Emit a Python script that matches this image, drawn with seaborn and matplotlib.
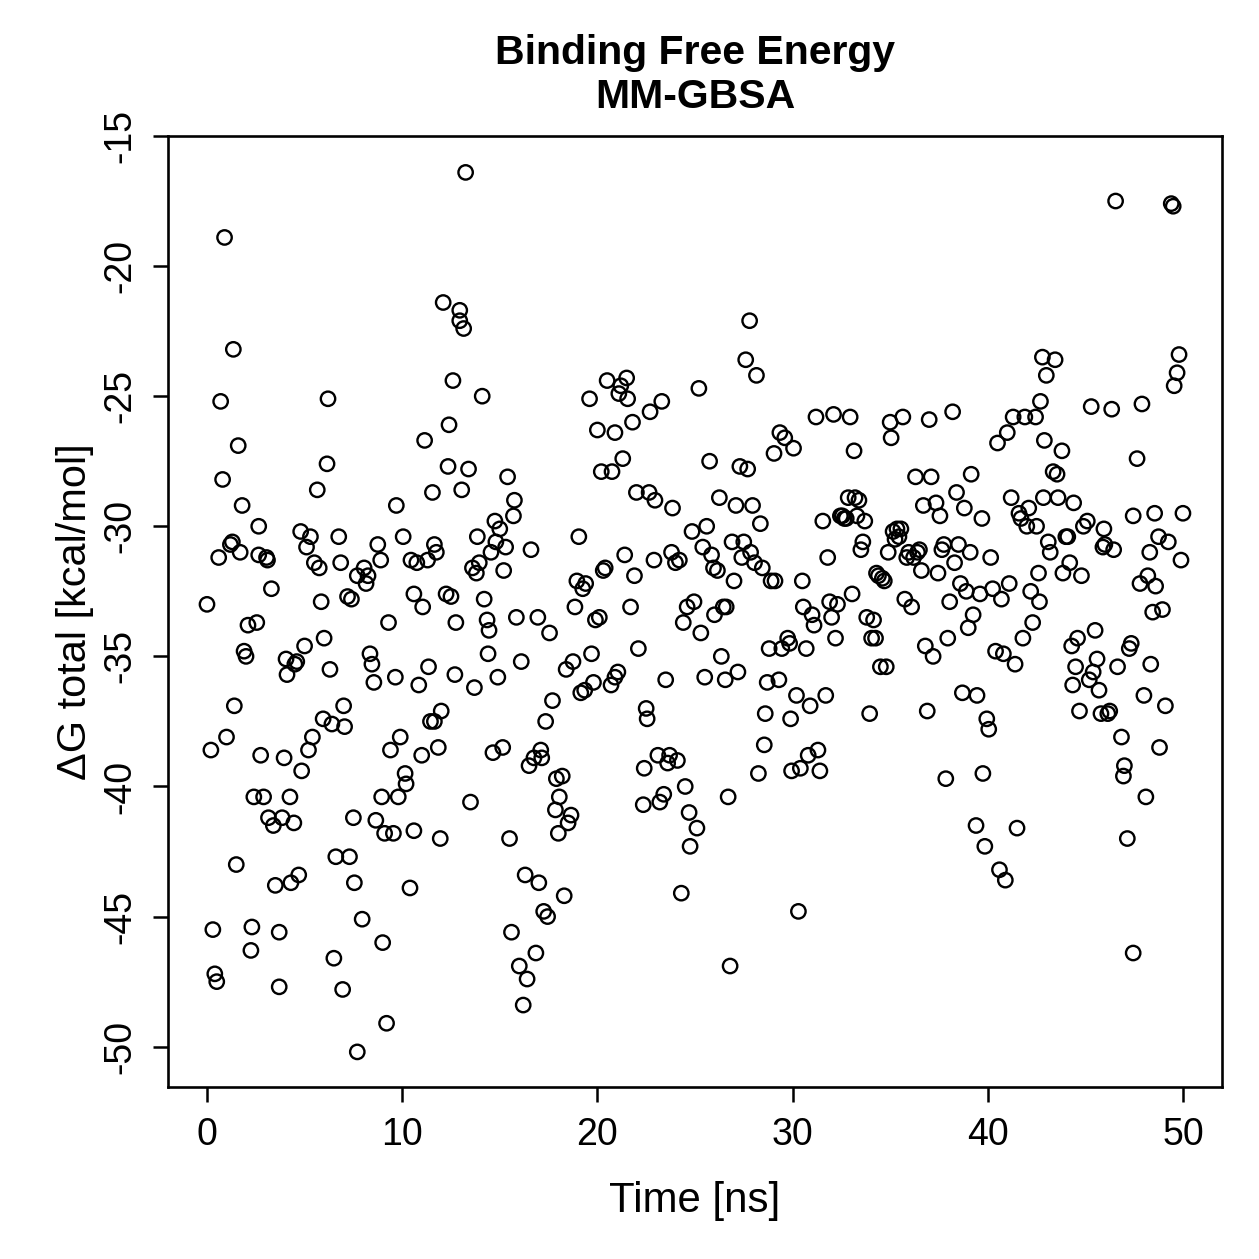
import matplotlib
matplotlib.use("Agg")
import matplotlib.pyplot as plt
import seaborn as sns
import pandas as pd

time_ns = [
 0.0,0.2,0.3,0.4,0.5,0.6,0.7,0.8,0.9,1.0,1.2,1.3,1.35,1.4,1.5,1.6,1.7,1.8,1.9,2.0,
 2.1,2.25,2.3,2.4,2.55,2.65,2.65,2.75,2.9,3.05,3.1,3.15,3.3,3.4,3.5,3.7,3.7,3.85,3.95,4.05,
 4.1,4.25,4.3,4.45,4.5,4.6,4.7,4.8,4.85,5.0,5.1,5.2,5.3,5.4,5.5,5.65,5.75,5.85,5.95,6.0,
 6.15,6.2,6.3,6.4,6.6,6.5,6.75,6.85,6.95,7.0,7.05,7.2,7.3,7.4,7.5,7.55,7.7,7.7,7.95,8.05,
 8.15,8.25,8.35,8.45,8.55,8.65,8.75,8.9,8.95,9.0,9.1,9.2,9.3,9.4,9.55,9.65,9.7,9.8,9.9,10.05,
 10.15,10.2,10.4,10.45,10.6,10.6,10.75,10.85,11.0,11.05,11.15,11.3,11.35,11.45,11.55,11.65,11.65,11.75,11.85,11.95,
 12.0,12.1,12.25,12.35,12.4,12.5,12.6,12.7,12.75,12.95,12.95,13.05,13.15,13.25,13.4,13.5,13.6,13.7,13.8,13.85,
 13.95,14.1,14.2,14.35,14.45,14.4,14.55,14.65,14.75,14.8,14.9,15.0,15.15,15.2,15.3,15.4,15.5,15.6,15.7,15.75,
 15.85,16.0,16.1,16.2,16.3,16.4,16.5,16.6,16.75,16.85,16.95,17.0,17.1,17.15,17.25,17.35,17.45,17.55,17.7,17.85,
 17.9,18.0,18.05,18.2,18.3,18.4,18.5,18.65,18.75,18.85,18.95,19.05,19.15,19.25,19.35,19.4,19.6,19.7,19.8,19.9,
 20.0,20.1,20.2,20.3,20.4,20.5,20.7,20.75,20.9,20.9,21.05,21.1,21.2,21.3,21.4,21.5,21.55,21.7,21.8,21.9,
 22.0,22.1,22.35,22.4,22.5,22.55,22.65,22.7,22.9,22.95,23.1,23.2,23.3,23.4,23.5,23.6,23.7,23.8,23.85,24.0,
 24.1,24.2,24.3,24.4,24.5,24.6,24.7,24.75,24.85,24.95,25.1,25.2,25.3,25.4,25.5,25.6,25.75,25.85,25.95,26.0,
 26.15,26.25,26.35,26.45,26.55,26.6,26.7,26.8,26.9,27.0,27.1,27.2,27.3,27.4,27.5,27.6,27.7,27.8,27.85,27.95,
 28.05,28.15,28.25,28.35,28.45,28.55,28.6,28.7,28.8,28.9,29.05,29.1,29.3,29.35,29.45,29.6,29.75,29.85,29.9,29.95,
 30.05,30.2,30.3,30.4,30.5,30.55,30.7,30.8,30.9,31.0,31.1,31.2,31.3,31.4,31.55,31.7,31.8,31.9,32.0,32.1,
 32.2,32.3,32.45,32.55,32.65,32.75,32.85,32.95,33.05,33.15,33.2,33.3,33.4,33.5,33.6,33.7,33.8,33.95,34.05,34.15,
 34.25,34.3,34.4,34.5,34.6,34.7,34.8,34.9,35.0,35.05,35.15,35.25,35.35,35.45,35.55,35.65,35.75,35.85,35.95,36.1,
 36.2,36.3,36.4,36.5,36.6,36.7,36.8,36.9,37.0,37.1,37.2,37.35,37.45,37.55,37.65,37.75,37.85,37.95,38.05,38.2,
 38.3,38.4,38.5,38.6,38.7,38.8,38.9,39.0,39.1,39.15,39.25,39.45,39.4,39.6,39.7,39.75,39.85,39.95,40.05,40.15,
 40.25,40.4,40.5,40.6,40.7,40.8,40.9,41.0,41.1,41.2,41.3,41.4,41.5,41.6,41.7,41.8,41.9,42.0,42.1,42.2,
 42.3,42.45,42.5,42.6,42.65,42.7,42.8,42.85,42.9,43.0,43.1,43.2,43.35,43.45,43.55,43.6,43.8,43.85,44.0,44.1,
 44.2,44.3,44.4,44.35,44.5,44.6,44.7,44.8,44.9,45.1,45.2,45.3,45.4,45.5,45.6,45.7,45.8,45.9,45.95,46.0,
 46.15,46.25,46.35,46.45,46.55,46.65,46.85,46.95,47.0,47.15,47.25,47.35,47.45,47.45,47.65,47.8,47.9,48.0,48.1,48.2,
 48.3,48.35,48.45,48.55,48.6,48.75,48.8,48.95,49.1,49.25,49.4,49.5,49.55,49.7,49.8,49.9,50.0,
]

delta_g = [
 -33.0,-38.6,-45.5,-47.2,-47.5,-31.2,-25.2,-28.2,-18.9,-38.1,-30.7,-30.6,-23.2,-36.9,-43.0,-26.9,-31.0,-29.2,-34.8,-35.0,
 -33.8,-46.3,-45.4,-40.4,-33.7,-30.0,-31.1,-38.8,-40.4,-31.2,-31.3,-41.2,-32.4,-41.5,-43.8,-45.6,-47.7,-41.2,-38.9,-35.1,
 -35.7,-40.4,-43.7,-41.4,-35.3,-35.2,-43.4,-30.2,-39.4,-34.6,-30.8,-38.6,-30.4,-38.1,-31.4,-28.6,-31.6,-32.9,-37.4,-34.3,
 -27.6,-25.1,-35.5,-37.6,-42.7,-46.6,-30.4,-31.4,-47.8,-36.9,-37.7,-32.7,-42.7,-32.8,-41.2,-43.7,-50.2,-31.9,-45.1,-31.6,
 -32.2,-31.9,-34.9,-35.3,-36.0,-41.3,-30.7,-31.3,-40.4,-46.0,-41.8,-49.1,-33.7,-38.6,-41.8,-35.8,-29.2,-40.4,-38.1,-30.4,
 -39.5,-39.9,-43.9,-31.3,-32.6,-41.7,-31.4,-36.1,-38.8,-33.1,-26.7,-31.3,-35.4,-37.5,-28.7,-37.5,-30.7,-31.0,-38.5,-42.0,
 -37.1,-21.4,-32.6,-27.7,-26.1,-32.7,-24.4,-35.7,-33.7,-21.7,-22.1,-28.6,-22.4,-16.4,-27.8,-40.6,-31.6,-36.2,-31.8,-30.4,
 -31.4,-25.0,-32.8,-33.6,-34.0,-34.9,-31.0,-38.7,-29.8,-30.6,-35.8,-30.1,-38.5,-31.7,-30.8,-28.1,-42.0,-45.6,-29.6,-29.0,
 -33.5,-46.9,-35.2,-48.4,-43.4,-47.4,-39.2,-30.9,-38.9,-46.4,-33.5,-43.7,-38.6,-38.9,-44.8,-37.5,-45.0,-34.1,-36.7,-40.9,
 -39.7,-41.8,-40.4,-39.6,-44.2,-35.5,-41.4,-41.1,-35.2,-33.1,-32.1,-30.4,-36.4,-32.4,-36.3,-32.2,-25.1,-34.9,-36.0,-33.6,
 -26.3,-33.5,-27.9,-31.7,-31.6,-24.4,-36.1,-27.9,-26.4,-35.8,-35.6,-24.9,-24.6,-27.4,-31.1,-24.3,-25.1,-33.1,-26.0,-31.9,
 -28.7,-34.7,-40.7,-39.3,-37.0,-37.4,-28.7,-25.6,-31.3,-29.0,-38.8,-40.6,-25.2,-40.3,-35.9,-39.1,-38.8,-31.0,-29.3,-31.4,
 -39.0,-31.3,-44.1,-33.7,-40.0,-33.1,-41.0,-42.3,-30.2,-32.9,-41.6,-24.7,-34.1,-30.8,-35.8,-30.0,-27.5,-31.1,-31.6,-33.4,
 -31.7,-28.9,-35.0,-33.1,-35.9,-33.1,-40.4,-46.9,-30.6,-32.1,-29.2,-35.6,-27.7,-31.2,-30.6,-23.6,-27.8,-22.1,-31.0,-29.2,
 -31.4,-24.2,-39.5,-29.9,-31.6,-38.4,-37.2,-36.0,-34.7,-32.1,-27.2,-32.1,-35.9,-26.4,-34.7,-26.6,-34.3,-34.5,-37.4,-39.4,
 -27.0,-36.5,-44.8,-39.3,-32.1,-33.1,-34.7,-38.8,-36.9,-33.4,-33.8,-25.8,-38.6,-39.4,-29.8,-36.5,-31.2,-32.9,-33.5,-25.7,
 -34.3,-33.0,-29.6,-29.6,-29.7,-29.7,-28.9,-25.8,-32.6,-27.1,-28.9,-29.6,-29.0,-30.9,-30.6,-29.8,-33.5,-37.2,-34.3,-33.6,
 -34.3,-31.8,-31.9,-35.4,-32.0,-32.1,-35.4,-31.0,-26.0,-26.6,-30.2,-30.5,-30.1,-30.4,-30.1,-25.8,-32.8,-31.2,-31.0,-33.1,
 -31.2,-28.1,-31.0,-30.9,-31.7,-29.2,-34.6,-37.1,-25.9,-28.1,-35.0,-29.1,-31.8,-29.6,-30.9,-30.7,-39.7,-34.3,-32.9,-25.6,
 -31.4,-28.7,-30.7,-32.2,-36.4,-29.3,-32.5,-33.9,-31.0,-28.0,-33.4,-36.5,-41.5,-32.6,-29.7,-39.5,-42.3,-37.4,-37.8,-31.2,
 -32.4,-34.8,-26.8,-43.2,-32.8,-34.9,-43.6,-26.4,-32.2,-28.9,-25.8,-35.3,-41.6,-29.5,-29.7,-34.3,-25.8,-30.0,-29.3,-32.5,
 -33.7,-25.8,-30.0,-31.8,-32.9,-25.2,-23.5,-28.9,-26.7,-24.2,-30.6,-31.0,-27.9,-23.6,-28.0,-28.9,-27.1,-31.8,-30.4,-30.4,
 -31.4,-34.6,-29.1,-36.1,-35.4,-34.3,-37.1,-31.9,-30.0,-29.8,-35.9,-25.4,-35.6,-34.0,-35.1,-36.3,-37.2,-30.8,-30.1,-30.7,
 -37.2,-37.1,-25.5,-30.9,-17.5,-35.4,-38.1,-39.6,-39.2,-42.0,-34.7,-34.5,-46.4,-29.6,-27.4,-32.2,-25.3,-36.5,-40.4,-31.9,
 -31.0,-35.3,-33.3,-29.5,-32.3,-30.4,-38.5,-33.2,-36.9,-30.6,-17.6,-17.7,-24.6,-24.1,-23.4,-31.3,-29.5,
]

x_ticks = [0, 10, 20, 30, 40, 50]
y_ticks = [-15, -20, -25, -30, -35, -40, -45, -50]

df = pd.DataFrame({"Time": time_ns, "dG": delta_g})

sns.set_style("ticks")
plt.rcParams["font.family"] = ["Liberation Sans", "DejaVu Sans"]
plt.rcParams["text.color"] = "black"
plt.rcParams["axes.labelcolor"] = "black"

fig = plt.figure(figsize=(1259 / 180, 1259 / 180), dpi=180)
ax = fig.add_axes([0.1334, 0.1366, 0.8372, 0.7554])

sns.scatterplot(data=df, x="Time", y="dG", ax=ax, marker="o", s=33,
                facecolors="none", edgecolor="black", linewidth=0.95)

ax.set_xlim(-2, 52)
ax.set_ylim(-51.55, -15.05)
ax.set_xticks(x_ticks)
ax.set_yticks(y_ticks)
ax.set_yticklabels([str(v) for v in y_ticks], rotation=90, va="center")
ax.tick_params(axis="both", direction="out", length=6, width=1.0,
               labelsize=15, color="black", labelcolor="black", pad=6)
for sp in ax.spines.values():
    sp.set_visible(True)
    sp.set_linewidth(1.05)
    sp.set_color("black")

ax.set_xlabel("Time [ns]", fontsize=16.8, labelpad=11, color="black")
ax.set_ylabel("ΔG total [kcal/mol]", fontsize=16.6, labelpad=3, color="black")
ax.set_title("Binding Free Energy\nMM-GBSA", fontsize=16.4, fontweight="bold",
             pad=11, linespacing=1.2, color="black")

fig.savefig("out.png", dpi=180, facecolor="white")
